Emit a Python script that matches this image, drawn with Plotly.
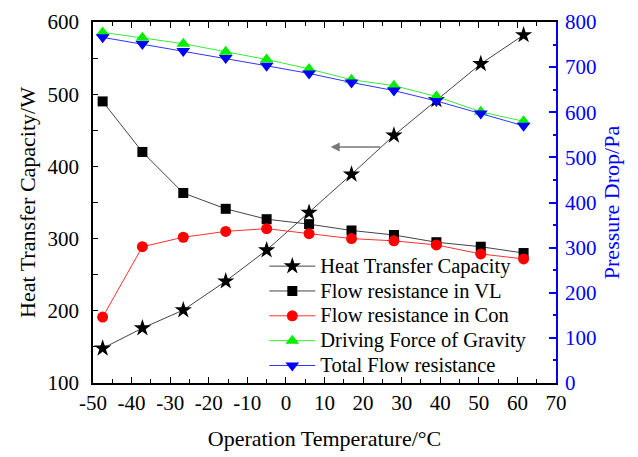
import plotly.graph_objects as go

# Data
temperature = [-47.5, -37.2, -26.6, -15.6, -5.0, 6.0, 17.0, 28.0, 39.0, 50.5, 61.6]
heat_transfer_W = [148, 176, 201, 241, 284, 336, 389, 443, 492, 542, 582]
flow_res_vl_Pa = [624, 512, 421, 386, 363, 352, 338, 328, 312, 302, 288]
flow_res_con_Pa = [146, 302, 323, 336, 342, 331, 320, 315, 306, 286, 275]
gravity_force_Pa = [777, 765, 752, 734, 717, 696, 672, 659, 635, 601, 580]
total_flow_res_Pa = [766, 751, 736, 720, 703, 686, 666, 648, 625, 597, 570]

series_names = ["Heat Transfer Capacity", "Flow resistance in VL", "Flow resistance in Con",
                "Driving Force of Gravity", "Total Flow resistance"]

x_tick_vals = [-50, -40, -30, -20, -10, 0, 10, 20, 30, 40, 50, 60, 70]
x_tick_labels = ["-50", "-40", "-30", "-20", "-10", "0", "10", "20", "30", "40", "50", "60", "70"]

FONT = "Liberation Serif"


def leg(name):
    return '<span style="font-size:20.5px">' + name + '</span>'


fig = go.Figure()

fig.add_trace(go.Scatter(
    x=temperature, y=heat_transfer_W, name=leg(series_names[0]),
    mode="lines+markers", yaxis="y",
    line=dict(color="#444444", width=1),
    marker=dict(symbol="star", size=13, color="black", line=dict(width=0)),
))
fig.add_trace(go.Scatter(
    x=temperature, y=flow_res_vl_Pa, name=leg(series_names[1]),
    mode="lines+markers", yaxis="y2",
    line=dict(color="#444444", width=1),
    marker=dict(symbol="square", size=10, color="black", line=dict(width=0)),
))
fig.add_trace(go.Scatter(
    x=temperature, y=flow_res_con_Pa, name=leg(series_names[2]),
    mode="lines+markers", yaxis="y2",
    line=dict(color="#ff3030", width=1),
    marker=dict(symbol="circle", size=11, color="#ff0000", line=dict(width=0)),
))
fig.add_trace(go.Scatter(
    x=temperature, y=gravity_force_Pa, name=leg(series_names[3]),
    mode="lines+markers", yaxis="y2",
    line=dict(color="#33ee33", width=1),
    marker=dict(symbol="triangle-up", size=12, color="#00ee00", line=dict(width=0)),
))
fig.add_trace(go.Scatter(
    x=temperature, y=total_flow_res_Pa, name=leg(series_names[4]),
    mode="lines+markers", yaxis="y2",
    line=dict(color="#3333ff", width=1),
    marker=dict(symbol="triangle-down", size=12, color="#0000ff", line=dict(width=0)),
))

fig.add_annotation(
    x=11.6, y=427, ax=24.8, ay=427, xref="x", yref="y", axref="x", ayref="y",
    text="", showarrow=True, arrowhead=2, arrowsize=1.2, arrowwidth=1.5,
    arrowcolor="#777777",
)

fig.update_layout(
    width=638, height=457,
    margin=dict(l=93, r=82, t=22, b=74),
    paper_bgcolor="white", plot_bgcolor="white",
    font=dict(family=FONT, size=21, color="black"),
    showlegend=True,
    legend=dict(
        x=0.37, y=0.372, xanchor="left", yanchor="top",
        bgcolor="rgba(0,0,0,0)", font=dict(family=FONT, size=16.8, color="black"),
        itemwidth=46, tracegroupgap=0,
    ),
    xaxis=dict(
        range=[-50, 70], tickmode="array", tickvals=x_tick_vals, ticktext=x_tick_labels,
        showgrid=False, zeroline=False, showline=True, linecolor="black", linewidth=1.5,
        mirror="ticks", ticks="inside", ticklen=6, tickwidth=1, tickcolor="black",
        minor=dict(dtick=5, ticks="inside", ticklen=4, tickwidth=1, tickcolor="black"),
        title=dict(text="Operation Temperature/°C", font=dict(family=FONT, size=22), standoff=17),
        tickfont=dict(family=FONT, size=21), automargin=False,
    ),
    yaxis=dict(
        range=[100, 600], dtick=100, showgrid=False, zeroline=False,
        showline=True, linecolor="black", linewidth=1.5,
        ticks="inside", ticklen=5, tickwidth=1, tickcolor="black",
        minor=dict(dtick=50, ticks="inside", ticklen=5, tickwidth=1, tickcolor="black"),
        ticklabelstandoff=8,
        title=dict(text="Heat Transfer Capacity/W", font=dict(family=FONT, size=22), standoff=6),
        tickfont=dict(family=FONT, size=21), automargin=False,
    ),
    yaxis2=dict(
        range=[0, 800], dtick=100, overlaying="y", side="right",
        showgrid=False, zeroline=False, showline=True, linecolor="#0000ff", linewidth=1.5,
        ticks="inside", ticklen=7, tickwidth=1.5, tickcolor="#0000ff",
        minor=dict(dtick=50, ticks="inside", ticklen=3, tickwidth=1.5, tickcolor="#0000ff"),
        ticklabelstandoff=3,
        title=dict(text="Pressure Drop/Pa", font=dict(family=FONT, size=22, color="#0000ff"), standoff=8),
        tickfont=dict(family=FONT, size=21, color="#0000ff"), automargin=False,
    ),
)

fig.write_html("out.html")
